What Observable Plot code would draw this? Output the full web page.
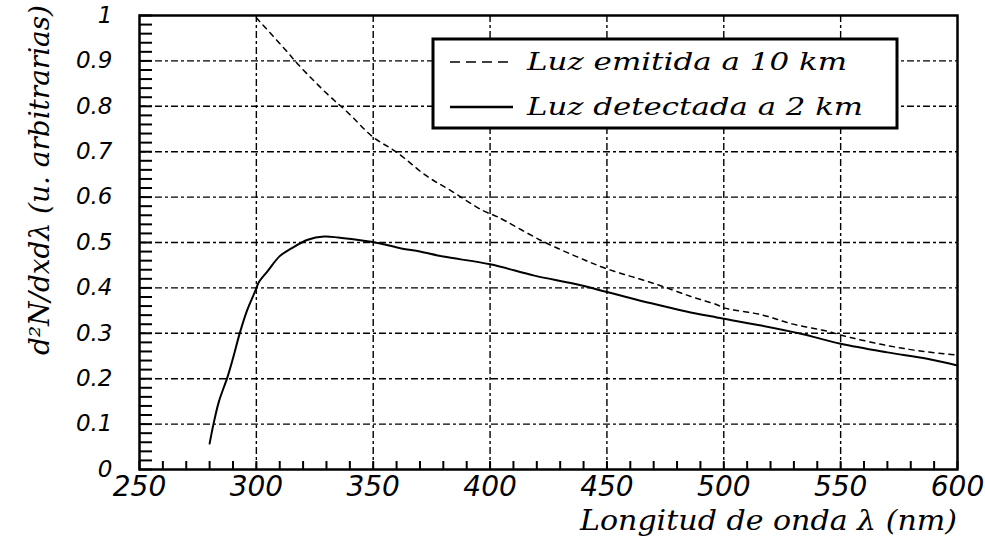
<!DOCTYPE html>
<html><head><meta charset="utf-8">
<script src="https://cdn.jsdelivr.net/npm/d3@7"></script>
<script src="https://cdn.jsdelivr.net/npm/@observablehq/plot@0.6"></script>
<style>
html,body{margin:0;padding:0;background:#fff;}
#chart{width:985px;height:538px;}
</style></head><body><div id="chart"></div>
<script>
// ---- data ----
const seriesNames = ["Luz emitida a 10 km", "Luz detectada a 2 km"];
const emittedLambda = [300, 312, 319, 331, 339, 350, 360, 373, 383, 397, 403, 422, 437, 450, 470, 486, 497, 500, 516, 529, 543, 554, 570, 584, 600];
const emittedValue  = [0.995, 0.927, 0.886, 0.824, 0.787, 0.732, 0.699, 0.646, 0.615, 0.570, 0.557, 0.504, 0.469, 0.442, 0.410, 0.381, 0.363, 0.356, 0.341, 0.321, 0.306, 0.291, 0.273, 0.261, 0.252];
const detectedLambda = [280, 281.7, 284, 287.6, 290, 293, 296, 299.6, 301, 305, 310, 315, 322, 329, 335, 343, 353, 362, 370, 380, 400, 419, 436, 450, 469, 484, 497, 500, 516, 533, 550, 570, 587, 600];
const detectedValue  = [0.057, 0.101, 0.150, 0.203, 0.245, 0.302, 0.350, 0.394, 0.412, 0.438, 0.470, 0.487, 0.506, 0.513, 0.511, 0.506, 0.498, 0.487, 0.480, 0.469, 0.452, 0.427, 0.409, 0.391, 0.366, 0.348, 0.335, 0.332, 0.317, 0.299, 0.277, 0.258, 0.244, 0.229];

const xTicks = [250, 300, 350, 400, 450, 500, 550, 600];
const xTickLabels = ["250", "300", "350", "400", "450", "500", "550", "600"];
const yTicks = [0, 0.1, 0.2, 0.3, 0.4, 0.5, 0.6, 0.7, 0.8, 0.9, 1];
const yTickLabels = ["0", "0.1", "0.2", "0.3", "0.4", "0.5", "0.6", "0.7", "0.8", "0.9", "1"];
const xGrid = [300, 350, 400, 450, 500, 550];
const yGrid = [0.1, 0.2, 0.3, 0.4, 0.5, 0.6, 0.7, 0.8, 0.9];
const xMinorTicks = d3.range(250, 601, 10);
const yMinorTicks = d3.range(0, 51).map(i => i / 50);
const xTitle = "Longitud de onda λ (nm)";
const yTitle = "d²N/dxdλ (u. arbitrarias)";

const emitted = emittedLambda.map((x, i) => ({x, y: emittedValue[i]}));
const detected = detectedLambda.map((x, i) => ({x, y: detectedValue[i]}));

const W = 985, H = 538, ML = 139, MR = 28, MT = 15, MB = 69;
const innerW = W - ML - MR, innerH = H - MT - MB;
const gridDash = "7,3,3,3";
const plot = Plot.plot({
  width: W, height: H,
  marginLeft: ML, marginRight: MR, marginTop: MT, marginBottom: MB,
  x: {domain: [250, 600]},
  y: {domain: [0, 1]},
  marks: [
    Plot.ruleX(xGrid, {stroke: "black", strokeWidth: 1.4, strokeDasharray: gridDash}),
    Plot.ruleY(yGrid, {stroke: "black", strokeWidth: 1.4, strokeDasharray: gridDash}),
    Plot.ruleX(xMinorTicks, {x: d => d, stroke: "black", strokeWidth: 2, insetTop: innerH - 8}),
    Plot.ruleY(yMinorTicks, {y: d => d, stroke: "black", strokeWidth: 2, insetRight: innerW - 13}),
    Plot.axisX({ticks: xTicks, tickSize: 0, tickPadding: 7, label: null,
      tickFormat: d => xTickLabels[xTicks.indexOf(d)],
      fontSize: 28, fontFamily: "DejaVu Sans", fontStyle: "italic"}),
    Plot.axisY({ticks: yTicks, tickSize: 0, tickPadding: 27, label: null,
      tickFormat: d => yTickLabels[yTicks.indexOf(d)],
      fontSize: 23, fontFamily: "DejaVu Sans", fontStyle: "italic"}),
    Plot.line(emitted, {x: "x", y: "y", stroke: "black", strokeWidth: 1.5, strokeDasharray: "5,5", curve: "catmull-rom"}),
    Plot.line(detected, {x: "x", y: "y", stroke: "black", strokeWidth: 2, curve: "catmull-rom"}),
    Plot.frame({stroke: "black", strokeWidth: 2.5})
  ]
});
plot.style.background = "white";
plot.style.color = "black";
document.getElementById("chart").appendChild(plot);

const svg = d3.select(plot);
const serif = "DejaVu Serif";
// axis titles
svg.append("text")
  .attr("transform", "translate(49,355) rotate(-90)")
  .attr("textLength", 350).attr("lengthAdjust", "spacingAndGlyphs")
  .style("text-anchor", "start")
  .style("font-family", serif).style("font-style", "italic").style("font-size", "27px")
  .style("fill", "black")
  .text(yTitle);
svg.append("text")
  .attr("x", 957).attr("y", 530)
  .attr("textLength", 377).attr("lengthAdjust", "spacingAndGlyphs")
  .style("text-anchor", "end")
  .style("font-family", serif).style("font-style", "italic").style("font-size", "28px")
  .style("fill", "black")
  .text(xTitle);

// legend
const lg = svg.append("g");
lg.append("rect").attr("x", 433).attr("y", 39).attr("width", 464).attr("height", 89)
  .attr("fill", "white").attr("stroke", "black").attr("stroke-width", 3);
const rows = [
  {name: seriesNames[0], dash: "10,6", sw: 1.5, ly: 62, ty: 70, len: 320},
  {name: seriesNames[1], dash: null, sw: 2.5, ly: 107, ty: 115, len: 336}
];
rows.forEach(r => {
  lg.append("line").attr("x1", 450).attr("x2", 513).attr("y1", r.ly).attr("y2", r.ly)
    .attr("stroke", "black").attr("stroke-width", r.sw).attr("stroke-dasharray", r.dash);
  lg.append("text").attr("x", 527).attr("y", r.ty)
    .attr("textLength", r.len).attr("lengthAdjust", "spacingAndGlyphs")
    .style("text-anchor", "start")
    .style("font-family", serif).style("font-style", "italic").style("font-size", "25px")
    .style("fill", "black").text(r.name);
});
</script></body></html>
